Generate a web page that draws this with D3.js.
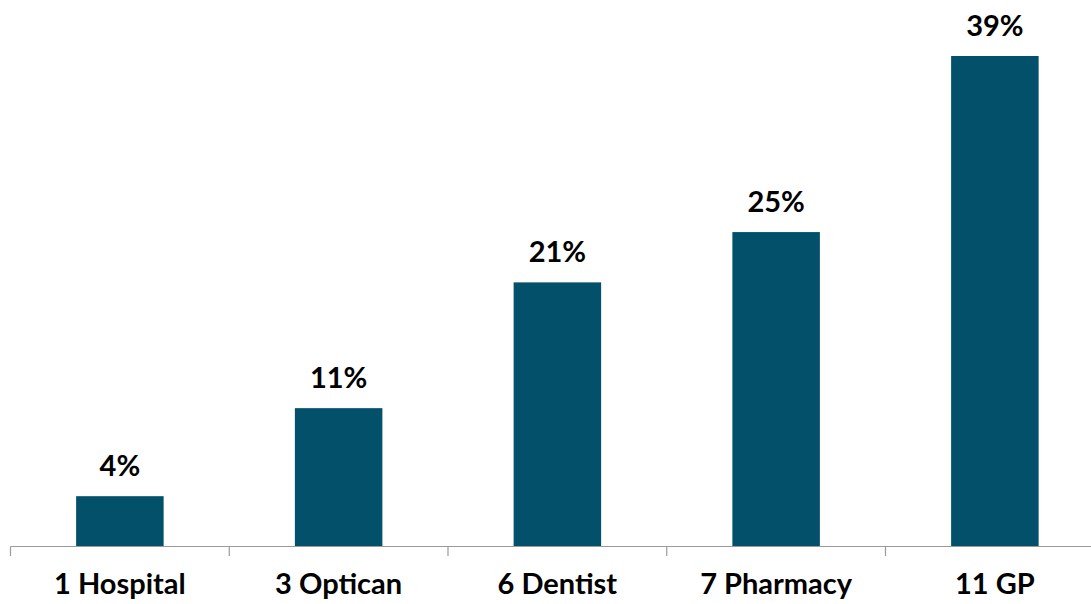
<!DOCTYPE html>
<html><head><meta charset="utf-8">
<script src="https://cdn.jsdelivr.net/npm/d3@7"></script>
<style>body{margin:0;background:#fff}svg{display:block}</style>
</head><body><svg id="c" width="1091" height="604"></svg>
<script>
const categories = ["1 Hospital","3 Optican","6 Dentist","7 Pharmacy","11 GP"];
const values = [4, 11, 21, 25, 39];
const valueLabels = ["4%","11%","21%","25%","39%"];

const svg = d3.select("#c");
const x0 = 10.5, bw = 218.75;
const x = d3.scaleBand().domain(categories).range([x0, x0 + bw*categories.length]).paddingInner(0.6).paddingOuter(0.3);
const y = d3.scaleLinear().domain([0, 39]).range([546.5, 56]);
const font = "Lato, 'Open Sans', sans-serif";

svg.selectAll("rect.bar").data(values).join("rect")
  .attr("x", (d,i)=>x(categories[i])).attr("width", x.bandwidth())
  .attr("y", d=>y(d)).attr("height", d=>y(0)-y(d)).attr("fill","#02506a");

svg.selectAll("text.val").data(values).join("text")
  .attr("x",(d,i)=>x(categories[i])+x.bandwidth()/2).attr("y",d=>y(d)-20)
  .attr("text-anchor","middle").attr("font-family",font).attr("font-weight","bold")
  .attr("font-size",29).attr("fill","#000").text((d,i)=>valueLabels[i]);

// axis
const g = svg.append("g");
g.append("line").attr("x1",x0).attr("x2",1091).attr("y1",546.5).attr("y2",546.5).attr("stroke","#9a9a9a").attr("stroke-width",1.2);
const tickPos = d3.range(categories.length+1).map(i=>x0+bw*i);
g.selectAll("line.t").data(tickPos).join("line").attr("x1",d=>d).attr("x2",d=>d).attr("y1",546.5).attr("y2",556)
  .attr("stroke","#9a9a9a").attr("stroke-width",1.2);
g.selectAll("text.cat").data(categories).join("text")
  .attr("x",d=>x(d)+x.bandwidth()/2).attr("y",594).attr("text-anchor","middle")
  .attr("font-family",font).attr("font-weight","bold").attr("font-size",29).attr("fill","#000").text(d=>d);
</script></body></html>
